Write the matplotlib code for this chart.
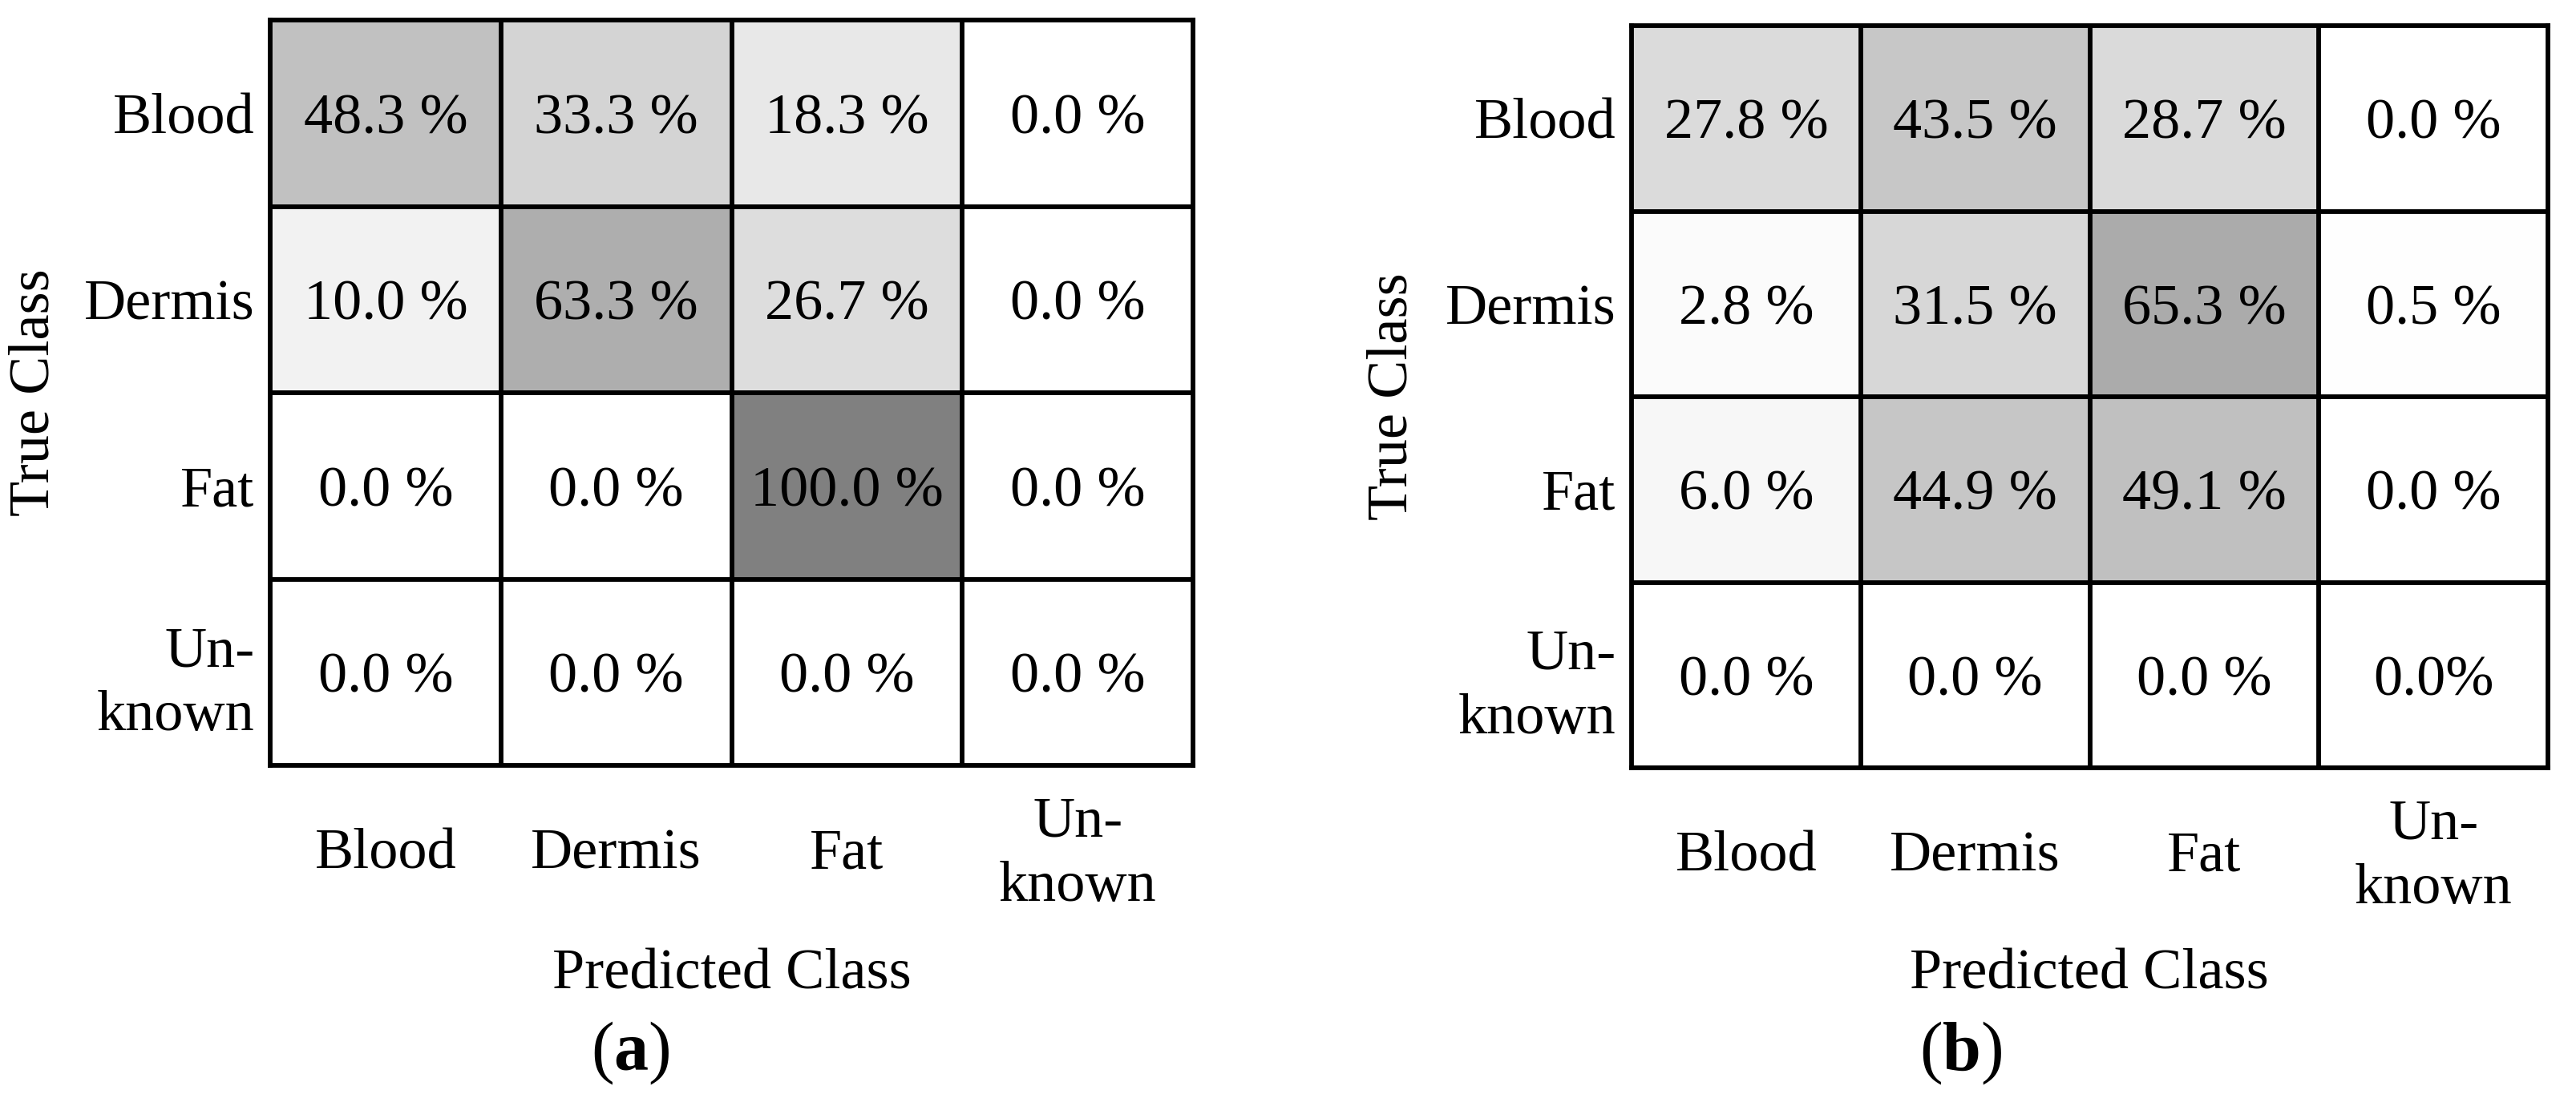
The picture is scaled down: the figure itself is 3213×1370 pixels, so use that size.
import matplotlib
matplotlib.use("Agg")
import matplotlib.pyplot as plt
import numpy as np
from matplotlib.colors import LinearSegmentedColormap

plt.rcParams["font.family"] = ["Liberation Serif", "DejaVu Serif"]
plt.rcParams["mathtext.fontset"] = "custom"
plt.rcParams["mathtext.rm"] = "Liberation Serif"
plt.rcParams["mathtext.bf"] = "Liberation Serif:bold"

CLASSES = ["Blood", "Dermis", "Fat", "Un-\nknown"]

# row = true class, col = predicted class (percent)
conf_a = [[48.3, 33.3, 18.3, 0.0],
          [10.0, 63.3, 26.7, 0.0],
          [0.0, 0.0, 100.0, 0.0],
          [0.0, 0.0, 0.0, 0.0]]
conf_b = [[27.8, 43.5, 28.7, 0.0],
          [2.8, 31.5, 65.3, 0.5],
          [6.0, 44.9, 49.1, 0.0],
          [0.0, 0.0, 0.0, 0.0]]

W, H, DPI = 3213, 1370, 200
FS = 26
LW = 2.1

cmap = LinearSegmentedColormap.from_list("wg", ["#ffffff", "#808080"])


def px_rect(x0, y0, x1, y1):
    return [x0 / W, 1 - y1 / H, (x1 - x0) / W, (y1 - y0) / H]


def draw(ax, mat, nospace=()):
    mat = np.array(mat)
    ax.imshow(mat, cmap=cmap, vmin=0, vmax=100, aspect="auto",
              extent=(0, 4, 4, 0), interpolation="nearest")
    for k in range(1, 4):
        ax.axhline(k, color="black", lw=LW)
        ax.axvline(k, color="black", lw=LW)
    for s in ax.spines.values():
        s.set_linewidth(LW)
    for i in range(4):
        for j in range(4):
            sep = "" if (i, j) in nospace else " "
            ax.text(j + 0.5, i + 0.5, f"{mat[i, j]:.1f}{sep}%", ha="center",
                    va="center_baseline", fontsize=FS)
    ax.set_xlim(0, 4); ax.set_ylim(4, 0)
    ax.set_xticks(np.arange(4) + 0.5)
    ax.set_xticklabels(CLASSES, fontsize=FS, linespacing=1.3)
    ax.set_yticks(np.arange(4) + 0.5)
    ax.set_yticklabels(CLASSES, fontsize=FS, linespacing=1.3,
                       multialignment="right")
    for lbl in ax.get_xticklabels():
        lbl.set_va("center")
    ax.tick_params(axis="x", length=0, pad=40)
    ax.tick_params(axis="y", length=0, pad=7)


fig = plt.figure(figsize=(W / DPI, H / DPI), dpi=DPI)
ax_a = fig.add_axes(px_rect(337, 25, 1488, 955))
ax_b = fig.add_axes(px_rect(2035, 32, 3178, 958))
draw(ax_a, conf_a)
draw(ax_b, conf_b, nospace={(3, 3)})

for xc, yc in [(43, 490), (1737, 495)]:
    fig.text(xc / W, 1 - yc / H, "True Class", rotation=90, ha="center",
             va="center", fontsize=FS)
for xc in [913, 2606]:
    fig.text(xc / W, 1 - 1233 / H, "Predicted Class", ha="center",
             va="baseline", fontsize=FS)
fig.text(786 / W, 1 - 1335 / H, r"($\mathbf{a}$)", ha="center",
         va="baseline", fontsize=31)
fig.text(2446 / W, 1 - 1335 / H, r"($\mathbf{b}$)", ha="center",
         va="baseline", fontsize=31)

fig.savefig("out.png", dpi=DPI)
